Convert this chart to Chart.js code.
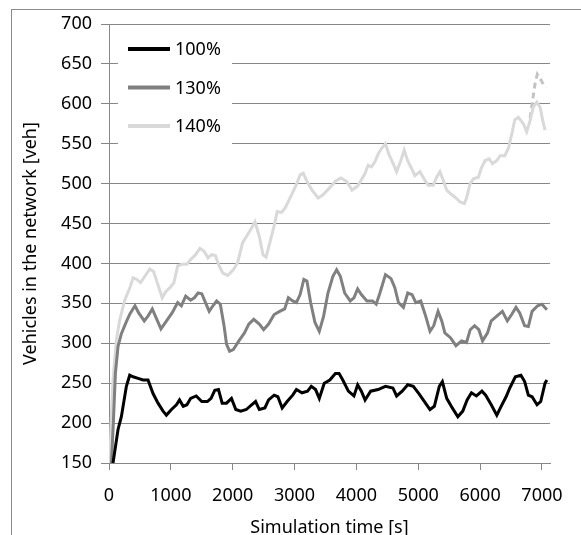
<!DOCTYPE html>
<html>
<head>
<meta charset="utf-8">
<script src="https://cdn.jsdelivr.net/npm/chart.js@4.4.0/dist/chart.umd.min.js"></script>
<style>
  html, body { margin: 0; padding: 0; background: #fff; overflow: hidden; }
  #wrap { position: relative; width: 581px; height: 535px; }
  #frame { position: absolute; left: 11px; top: 9px; width: 620px; height: 620px; border: 1px solid #8a8a8a; }
  canvas { position: absolute; left: 0; top: 0; }
</style>
</head>
<body>
<div id="wrap">
  <div id="frame"></div>
  <canvas id="chart" width="581" height="535"></canvas>
</div>
<script>
// series: [time s, vehicles]
const legendLabels = ["100%", "130%", "140%"];

const run100 = [[65,150],[146,192],[200,208],[281,246],[335,260],[389,258],[470,256],[550,254],[631,254],[712,237],
  [793,225],[874,215],[928,210],[1010,217],[1090,223],[1140,229],[1200,221],[1260,223],[1320,231],[1410,234],
  [1500,227],[1590,227],[1650,231],[1710,241],[1770,242],[1830,225],[1900,225],[1980,231],[2050,217],[2130,215],
  [2220,217],[2310,223],[2370,227],[2430,217],[2520,219],[2580,229],[2670,235],[2730,233],[2800,219],[2880,227],
  [2970,235],[3030,242],[3120,238],[3210,240],[3270,246],[3340,242],[3400,231],[3480,250],[3570,254],[3660,262],
  [3720,262],[3780,254],[3870,240],[3960,234],[4020,248],[4080,240],[4140,229],[4230,240],[4350,242],[4470,246],
  [4590,244],[4650,234],[4740,240],[4830,248],[4920,246],[5010,237],[5100,227],[5190,217],[5260,221],[5340,246],
  [5390,252],[5460,231],[5550,219],[5640,208],[5720,215],[5790,229],[5860,238],[5940,234],[6030,240],[6090,235],
  [6180,223],[6270,210],[6340,221],[6420,233],[6480,244],[6570,258],[6660,260],[6720,252],[6780,235],[6840,233],
  [6920,223],[6980,227],[7050,250],[7080,254]];

const run130 = [[40,150],[70,200],[103,262],[146,296],[200,312],[281,327],[340,337],[420,347],[480,338],[570,328],
  [630,334],[700,343],[750,334],[840,318],[930,328],[1020,338],[1110,351],[1170,347],[1240,359],[1320,354],
  [1380,357],[1440,363],[1500,362],[1560,351],[1620,340],[1680,347],[1740,353],[1800,349],[1860,322],[1900,299],
  [1950,290],[2010,292],[2100,303],[2190,313],[2260,324],[2340,330],[2430,324],[2500,317],[2580,324],[2670,336],
  [2760,340],[2840,343],[2900,357],[2970,353],[3030,351],[3090,361],[3150,380],[3200,378],[3260,351],[3330,326],
  [3400,315],[3470,334],[3540,363],[3620,384],[3680,392],[3740,384],[3810,363],[3900,353],[3960,357],[4020,368],
  [4080,361],[4170,353],[4260,353],[4320,349],[4380,363],[4470,386],[4560,381],[4620,370],[4680,351],[4760,345],
  [4830,363],[4900,361],[4960,351],[5040,353],[5120,334],[5190,315],[5250,322],[5320,340],[5380,328],[5430,313],
  [5520,307],[5610,297],[5700,303],[5780,301],[5840,317],[5910,322],[5980,317],[6040,303],[6120,313],[6180,328],
  [6270,334],[6360,340],[6440,328],[6510,336],[6580,345],[6640,338],[6720,322],[6780,321],[6840,340],[6930,347],
  [7000,349],[7080,342]];

const run140 = [[11,150],[40,210],[65,254],[119,304],[173,329],[254,354],[335,369],[390,382],[450,380],[510,376],
  [580,384],[660,393],[720,390],[780,376],[860,357],[920,365],[990,370],[1050,376],[1110,397],[1180,399],
  [1260,399],[1320,405],[1400,411],[1470,419],[1540,415],[1600,407],[1660,411],[1720,410],[1780,397],[1840,388],
  [1920,385],[2010,392],[2080,401],[2160,426],[2240,436],[2310,445],[2360,452],[2430,434],[2490,411],[2540,408],
  [2600,426],[2670,447],[2720,465],[2790,464],[2850,470],[2940,484],[3030,499],[3090,511],[3140,513],[3200,503],
  [3280,492],[3380,482],[3460,486],[3570,495],[3660,503],[3750,507],[3840,503],[3930,492],[4020,497],[4080,505],
  [4135,512],[4189,523],[4243,521],[4297,527],[4351,537],[4405,544],[4470,550],[4524,537],[4595,525],[4649,515],
  [4719,529],[4773,542],[4827,529],[4892,519],[4946,510],[5027,515],[5108,504],[5162,498],[5243,498],[5297,508],
  [5351,515],[5405,504],[5459,492],[5530,487],[5595,483],[5676,477],[5746,475],[5784,483],[5838,500],[5892,506],
  [5973,508],[6016,519],[6081,529],[6146,531],[6200,525],[6270,529],[6324,535],[6400,535],[6460,545],[6520,565],
  [6560,580],[6618,583],[6699,575],[6753,565],[6808,579],[6861,596],[6916,602],[6969,596],[7013,579],[7050,567]];

// dashed continuation of the 140% run
const run140b = [[6808,582],[6850,605],[6888,625],[6925,637],[6960,633],[6990,629],[7050,620]];

const yTicks = [150, 200, 250, 300, 350, 400, 450, 500, 550, 600, 650, 700];
const xTicks = [0, 1000, 2000, 3000, 4000, 5000, 6000, 7000];

const toPts = arr => arr.map(p => ({ x: p[0], y: p[1] }));
const FONT = '"Noto Sans", sans-serif';
const GRID = '#878787';

// legend drawn inside the plot, on a white box over the grid lines
const insideLegend = {
    id: 'insideLegend',
    beforeDatasetsDraw(chart) {
        const { ctx, chartArea } = chart;
        const left = chartArea.left, top = chartArea.top;
        ctx.save();
        ctx.fillStyle = '#fff';
        ctx.fillRect(left + 9, top + 6, 114, 121);
        ctx.font = '18px ' + FONT;
        ctx.textBaseline = 'middle';
        legendLabels.forEach((label, i) => {
            const ds = chart.data.datasets[i];
            const y = top + 25 + i * 38.5;
            ctx.strokeStyle = ds.borderColor;
            ctx.lineWidth = 4;
            ctx.beginPath();
            ctx.moveTo(left + 19, y);
            ctx.lineTo(left + 61, y);
            ctx.stroke();
            ctx.fillStyle = '#000';
            ctx.fillText(label, left + 66, y + 1);
        });
        ctx.restore();
    }
};

const lineSet = (label, data, color, dash) => ({
    label: label,
    data: toPts(data),
    borderColor: color,
    borderWidth: 3,
    borderDash: dash || [],
    showLine: true,
    pointRadius: 0,
    tension: 0,
    fill: false
});

new Chart(document.getElementById('chart').getContext('2d'), {
    type: 'scatter',
    data: {
        datasets: [
            lineSet(legendLabels[0], run100, '#000000'),
            lineSet(legendLabels[1], run130, '#808080'),
            lineSet(legendLabels[2], run140, '#d9d9d9'),
            lineSet('', run140b, '#c4c4c4', [6, 4])
        ]
    },
    options: {
        responsive: false,
        animation: false,
        layout: { padding: { top: 24, right: 31, left: 0, bottom: 0 } },
        plugins: { legend: { display: false }, tooltip: { enabled: false } },
        scales: {
            x: {
                type: 'linear',
                min: 0,
                max: 7130,
                afterBuildTicks: scale => { scale.ticks = xTicks.map(v => ({ value: v })); },
                afterFit: scale => { scale.height = 72; },
                grid: { drawOnChartArea: false, drawTicks: true, tickLength: 7, color: GRID },
                border: { display: true, color: GRID },
                ticks: {
                    color: '#000', padding: 15, maxRotation: 0,
                    font: { family: FONT, size: 18 },
                    callback: value => String(value)
                },
                title: {
                    display: true,
                    text: 'Simulation time [s]',
                    color: '#000',
                    padding: { top: 0, bottom: -2 },
                    font: { family: FONT, size: 18, lineHeight: 1 }
                }
            },
            y: {
                min: 150,
                max: 700,
                afterBuildTicks: scale => { scale.ticks = yTicks.map(v => ({ value: v })); },
                afterFit: scale => { scale.width = 109; },
                grid: { color: GRID, tickLength: 8, drawTicks: true },
                border: { display: true, color: GRID },
                ticks: { color: '#000', padding: 9, font: { family: FONT, size: 18 } },
                title: {
                    display: true,
                    text: 'Vehicles in the network [veh]',
                    color: '#000',
                    padding: { top: 20, bottom: 0 },
                    font: { family: FONT, size: 18, lineHeight: 1.2 }
                }
            }
        }
    },
    plugins: [insideLegend]
});
</script>
</body>
</html>
